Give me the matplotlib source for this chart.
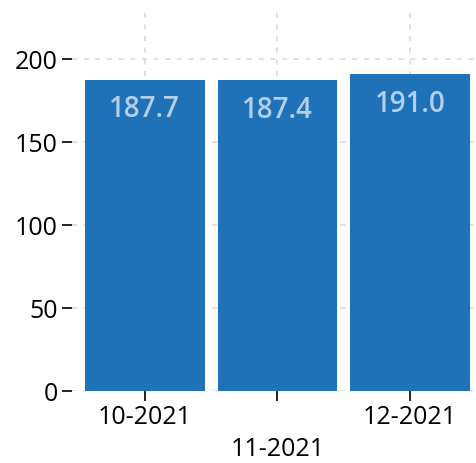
import matplotlib.pyplot as plt
import numpy as np

plt.rcParams['font.family'] = ['Open Sans', 'DejaVu Sans']

# data
months = ['10-2021', '11-2021', '12-2021']
values = [187.7, 187.4, 191.0]

bar_color = '#1f71b8'
label_color = '#b3cfea'
grid_color = '#d9d9d9'

fig = plt.figure(figsize=(4.76, 4.63), dpi=100)
ax = fig.add_axes([0.151, 0.1555, 0.85, 0.82])

x = np.arange(len(months))
bars = ax.bar(x, values, width=0.9, color=bar_color, zorder=2)

for rect, v in zip(bars, values):
    ax.annotate(f'{v:.1f}', (rect.get_x() + rect.get_width() / 2, v),
                xytext=(0, -30), textcoords='offset pixels',
                ha='center', va='center', fontsize=20, fontweight='semibold',
                color=label_color, zorder=3)

# stagger the middle label so they don't collide
ticklabels = [m if i % 2 == 0 else '\n' + m for i, m in enumerate(months)]
ax.set_xticks(x)
ax.set_xticklabels(ticklabels, linespacing=1.35)
ax.set_xlim(-0.55, 2.5)
ax.set_ylim(0, 229)
ax.set_yticks([0, 50, 100, 150, 200])

ax.tick_params(axis='both', labelsize=18, length=7, width=1.2, color='black', pad=3)
ax.grid(True, linestyle=(0, (3, 4)), color=grid_color, linewidth=1.2)
ax.set_axisbelow(True)
for s in ax.spines.values():
    s.set_visible(False)

plt.savefig('out.png', dpi=100)
